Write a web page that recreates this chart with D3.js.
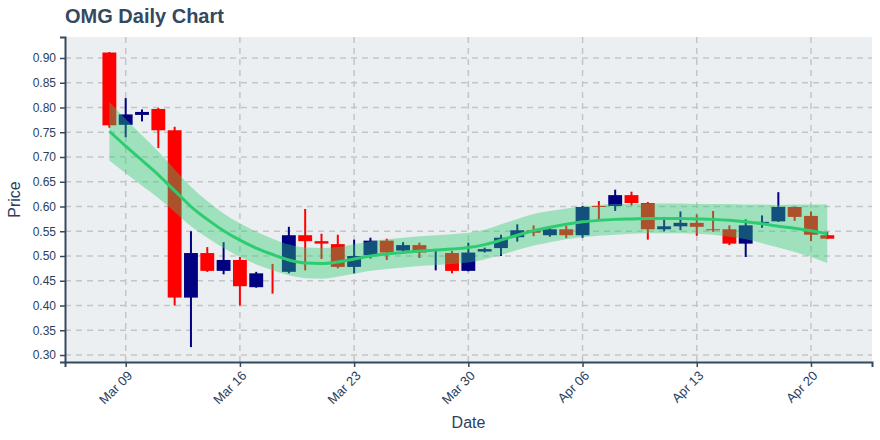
<!DOCTYPE html>
<html>
<head>
<meta charset="utf-8">
<script src="https://cdn.jsdelivr.net/npm/d3@7"></script>
<style>
  body { margin: 0; background: #fff; }
  text { font-family: 'Liberation Sans', Arial, sans-serif; }
</style>
</head>
<body>
<div id="chart"></div>
<script>
'use strict'

// daily candles
const dates = [
  '2020-03-08', '2020-03-09', '2020-03-10', '2020-03-11', '2020-03-12', '2020-03-13', '2020-03-14',
  '2020-03-15', '2020-03-16', '2020-03-17', '2020-03-18', '2020-03-19', '2020-03-20', '2020-03-21',
  '2020-03-22', '2020-03-23', '2020-03-24', '2020-03-25', '2020-03-26', '2020-03-27', '2020-03-28',
  '2020-03-29', '2020-03-30', '2020-03-31', '2020-04-01', '2020-04-02', '2020-04-03', '2020-04-04',
  '2020-04-05', '2020-04-06', '2020-04-07', '2020-04-08', '2020-04-09', '2020-04-10', '2020-04-11',
  '2020-04-12', '2020-04-13', '2020-04-14', '2020-04-15', '2020-04-16', '2020-04-17', '2020-04-18',
  '2020-04-19', '2020-04-20', '2020-04-21'
]
const open = [
  0.911, 0.765, 0.785, 0.797, 0.754, 0.416, 0.506, 0.470, 0.492, 0.437, 0.465, 0.468, 0.542, 0.530,
  0.524, 0.478, 0.502, 0.531, 0.511, 0.522, 0.495, 0.506, 0.470, 0.509, 0.516, 0.538, 0.552, 0.542,
  0.554, 0.542, 0.601, 0.601, 0.623, 0.607, 0.554, 0.560, 0.567, 0.554, 0.554, 0.525, 0.566, 0.570,
  0.599, 0.581, 0.542
]
const high = [
  0.912, 0.819, 0.796, 0.799, 0.761, 0.550, 0.518, 0.528, 0.498, 0.468, 0.484, 0.559, 0.595, 0.545,
  0.543, 0.533, 0.537, 0.535, 0.528, 0.527, 0.510, 0.510, 0.527, 0.517, 0.543, 0.564, 0.562, 0.557,
  0.561, 0.601, 0.611, 0.634, 0.630, 0.609, 0.579, 0.590, 0.584, 0.591, 0.562, 0.574, 0.582, 0.629,
  0.600, 0.590, 0.549
]
const low = [
  0.759, 0.740, 0.772, 0.718, 0.400, 0.316, 0.468, 0.463, 0.400, 0.436, 0.424, 0.465, 0.471, 0.494,
  0.475, 0.465, 0.495, 0.492, 0.505, 0.496, 0.471, 0.465, 0.469, 0.507, 0.500, 0.529, 0.540, 0.539,
  0.536, 0.537, 0.572, 0.591, 0.602, 0.533, 0.550, 0.552, 0.541, 0.549, 0.522, 0.498, 0.557, 0.569,
  0.571, 0.530, 0.534
]
const close = [
  0.764, 0.786, 0.791, 0.754, 0.416, 0.506, 0.470, 0.492, 0.439, 0.465, 0.465, 0.542, 0.530, 0.525,
  0.478, 0.500, 0.531, 0.507, 0.522, 0.507, 0.495, 0.470, 0.507, 0.514, 0.537, 0.552, 0.547, 0.554,
  0.542, 0.599, 0.599, 0.623, 0.607, 0.554, 0.560, 0.567, 0.559, 0.552, 0.525, 0.562, 0.569, 0.599,
  0.579, 0.543, 0.535
]
// the two doji days are drawn in the colour the picture shows
const dojiUp = ['2020-03-28']

// trend line and its band
const trend = [
  0.752, 0.722, 0.693, 0.664, 0.632, 0.600, 0.574, 0.551, 0.532, 0.516, 0.503, 0.492, 0.486, 0.485,
  0.488, 0.494, 0.500, 0.504, 0.507, 0.510, 0.512, 0.514, 0.517, 0.523, 0.532, 0.542, 0.551, 0.558,
  0.564, 0.569, 0.572, 0.574, 0.575, 0.576, 0.576, 0.576, 0.575, 0.574, 0.572, 0.569, 0.565, 0.560,
  0.556, 0.551, 0.545
]
const bandUpper = [
  0.811, 0.777, 0.744, 0.711, 0.675, 0.640, 0.611, 0.586, 0.566, 0.549, 0.535, 0.523, 0.517, 0.516,
  0.518, 0.524, 0.530, 0.534, 0.537, 0.540, 0.542, 0.544, 0.547, 0.553, 0.564, 0.575, 0.585, 0.591,
  0.596, 0.600, 0.603, 0.605, 0.605, 0.606, 0.606, 0.606, 0.605, 0.605, 0.605, 0.604, 0.604, 0.603,
  0.604, 0.604, 0.604
]
const bandLower = [
  0.693, 0.667, 0.642, 0.617, 0.589, 0.560, 0.537, 0.516, 0.498, 0.483, 0.471, 0.461, 0.455, 0.454,
  0.458, 0.464, 0.470, 0.474, 0.477, 0.480, 0.482, 0.484, 0.487, 0.493, 0.502, 0.512, 0.521, 0.528,
  0.534, 0.538, 0.541, 0.543, 0.545, 0.546, 0.546, 0.546, 0.545, 0.543, 0.539, 0.534, 0.526, 0.517,
  0.508, 0.498, 0.486
]

const yTicks = [0.30, 0.35, 0.40, 0.45, 0.50, 0.55, 0.60, 0.65, 0.70, 0.75, 0.80, 0.85, 0.90]

const width = 880
const height = 440
const margin = { top: 37, right: 8, bottom: 78, left: 65 }
const textColor = '#2a3f5f'
const DAY = 864e5

const parse = d3.utcParse('%Y-%m-%d')
const rows = dates.map((d, i) => ({
  date: parse(d),
  open: open[i],
  high: high[i],
  low: low[i],
  close: close[i],
  up: close[i] > open[i] || dojiUp.includes(d),
  trend: trend[i],
  upper: bandUpper[i],
  lower: bandLower[i]
}))

const svg = d3.select('#chart')
  .append('svg')
  .attr('width', width)
  .attr('height', height)

const x = d3.scaleUtc()
  .domain([new Date(Date.UTC(2020, 2, 9) - 3.72 * DAY), new Date(Date.UTC(2020, 3, 20) + 3.74 * DAY)])
  .range([margin.left, width - margin.right])

const y = d3.scaleLinear()
  .domain([0.2859, 0.9424])
  .range([height - margin.bottom, margin.top])

// plot background
svg.append('rect')
  .attr('x', margin.left)
  .attr('y', margin.top)
  .attr('width', width - margin.left - margin.right)
  .attr('height', height - margin.top - margin.bottom)
  .attr('fill', '#eceff1')

svg.append('clipPath')
  .attr('id', 'plot-clip')
  .append('rect')
  .attr('x', margin.left)
  .attr('y', margin.top)
  .attr('width', width - margin.left - margin.right)
  .attr('height', height - margin.top - margin.bottom)

// dashed grid
const xTicks = x.ticks(d3.utcMonday.every(1))
const grid = svg.append('g')
  .attr('stroke', '#c3c6c8')
  .attr('stroke-width', 1.5)
  .attr('stroke-dasharray', '6,5')
grid.selectAll('line.h')
  .data(yTicks)
  .join('line')
  .attr('class', 'h')
  .attr('x1', margin.left)
  .attr('x2', width - margin.right)
  .attr('y1', d => y(d))
  .attr('y2', d => y(d))
grid.selectAll('line.v')
  .data(xTicks)
  .join('line')
  .attr('class', 'v')
  .attr('x1', d => x(d))
  .attr('x2', d => x(d))
  .attr('y1', margin.top)
  .attr('y2', height - margin.bottom)

const plot = svg.append('g').attr('clip-path', 'url(#plot-clip)')

// candles
const bodyW = (x(rows[1].date) - x(rows[0].date)) * 0.85
const candle = plot.append('g')
  .selectAll('g')
  .data(rows)
  .join('g')
  .attr('fill', d => d.up ? '#000080' : '#ff0000')
  .attr('stroke', d => d.up ? '#000080' : '#ff0000')

candle.append('line')
  .attr('x1', d => x(d.date))
  .attr('x2', d => x(d.date))
  .attr('y1', d => y(d.high))
  .attr('y2', d => y(d.low))
  .attr('stroke-width', 2)

candle.append('rect')
  .attr('x', d => x(d.date) - bodyW / 2)
  .attr('width', bodyW)
  .attr('y', d => y(Math.max(d.open, d.close)))
  .attr('height', d => Math.abs(y(d.open) - y(d.close)))
  .attr('stroke', 'none')

// band on top of the candles
plot.append('path')
  .datum(rows)
  .attr('fill', 'rgba(46, 204, 113, 0.4)')
  .attr('d', d3.area()
    .x(d => x(d.date))
    .y0(d => y(d.lower))
    .y1(d => y(d.upper))
    .curve(d3.curveMonotoneX))

plot.append('path')
  .datum(rows)
  .attr('fill', 'none')
  .attr('stroke', '#2ecc71')
  .attr('stroke-width', 3)
  .attr('d', d3.line()
    .x(d => x(d.date))
    .y(d => y(d.trend))
    .curve(d3.curveMonotoneX))

// axes
const yAxis = svg.append('g')
  .attr('transform', 'translate(' + margin.left + ',0)')
  .call(d3.axisLeft(y).tickValues(yTicks).tickFormat(d3.format('.2f')).tickSize(5).tickPadding(4))
const xAxis = svg.append('g')
  .attr('transform', 'translate(0,' + (height - margin.bottom) + ')')
  .call(d3.axisBottom(x).tickValues(xTicks).tickFormat(d3.utcFormat('%b %d')).tickSize(5).tickPadding(4))

for (const axis of [xAxis, yAxis]) {
  axis.select('.domain').attr('stroke', '#34495e').attr('stroke-width', 2)
  axis.selectAll('.tick line').attr('stroke', '#34495e').attr('stroke-width', 1.5)
  axis.selectAll('.tick text')
    .attr('fill', textColor)
    .style('font-size', '12px')
    .style('font-family', "'Liberation Sans', Arial, sans-serif")
}

xAxis.selectAll('.tick text')
  .attr('text-anchor', 'end')
  .attr('y', 0)
  .attr('dy', 0)
  .style('font-size', '13px')
  .attr('transform', 'translate(7,14.5) rotate(-45)')

// titles
svg.append('text')
  .attr('x', margin.left)
  .attr('y', 23)
  .attr('fill', '#34495e')
  .style('font-size', '20px')
  .style('font-weight', 'bold')
  .text('OMG Daily Chart')

svg.append('text')
  .attr('x', (margin.left + width - margin.right) / 2)
  .attr('y', 428)
  .attr('text-anchor', 'middle')
  .attr('fill', textColor)
  .style('font-size', '16px')
  .text('Date')

svg.append('text')
  .attr('transform', 'translate(20,' + ((margin.top + height - margin.bottom) / 2) + ') rotate(-90)')
  .attr('text-anchor', 'middle')
  .attr('fill', textColor)
  .style('font-size', '16px')
  .text('Price')
</script>
</body>
</html>
